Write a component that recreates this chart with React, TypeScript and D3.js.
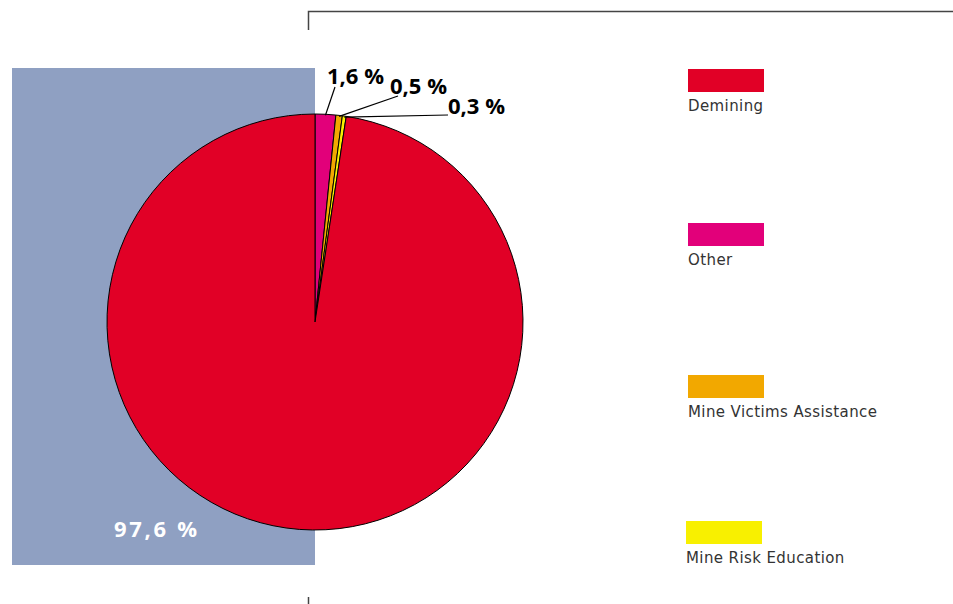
import React from "react";
import * as d3 from "d3";

const categories = ["Other", "Mine Victims Assistance", "Mine Risk Education", "Demining"];
const values = [1.6, 0.5, 0.3, 97.6];
const valueLabels = ["1,6 %", "0,5 %", "0,3 %", "97,6 %"];
const colors = ["#e2007a", "#f2a800", "#f8f000", "#e10026"];
const legendOrder = ["Demining", "Other", "Mine Victims Assistance", "Mine Risk Education"];

const W = 953, H = 604;
const cx = 315, cy = 322, R = 208;

export default function App() {
  const pie = d3.pie<number>().sort(null).value((d) => d)(values);
  const arc = d3.arc<d3.PieArcDatum<number>>().innerRadius(0).outerRadius(R);
  const outer = (a: d3.PieArcDatum<number>) => {
    const m = (a.startAngle + a.endAngle) / 2;
    return [Math.sin(m) * R, -Math.cos(m) * R];
  };
  const labelPos = [
    { x: 327, y: 84, lx: 335, ly: 87 },
    { x: 390, y: 94, lx: 398, ly: 96 },
    { x: 448, y: 114, lx: 448, ly: 115 },
  ];
  const legendY = [69, 223, 375, 521];
  const legendX = [688, 688, 688, 686];
  const font = "'DejaVu Sans', sans-serif";
  const labelFont = "'Open Sans', sans-serif";
  return (
    <svg width={W} height={H} style={{ position: "absolute", left: 0, top: 0 }}>
      <rect x={0} y={0} width={W} height={H} fill="#fff" />
      <path d={`M308.5,30 V11.5 H953`} fill="none" stroke="#444" strokeWidth={1.5} />
      <line x1={308.5} x2={308.5} y1={597} y2={604} stroke="#444" strokeWidth={1.5} />
      <rect x={12} y={68} width={303} height={497} fill="#8fa0c2" />
      <g transform={`translate(${cx},${cy})`}>
        {pie.map((p, i) => (
          <path key={i} d={arc(p) || ""} fill={colors[i]} stroke="#000" strokeWidth={1} />
        ))}
      </g>
      {labelPos.map((l, i) => {
        const [ox, oy] = outer(pie[i]);
        return (
          <g key={i}>
            <line x1={l.lx} y1={l.ly} x2={cx + ox} y2={cy + oy + 1} stroke="#000" strokeWidth={1.2} />
            <text x={l.x} y={l.y} fontFamily={labelFont} fontWeight="bold" fontSize={22} fill="#000" textLength={57} lengthAdjust="spacingAndGlyphs">
              {valueLabels[i]}
            </text>
          </g>
        );
      })}
      <text x={114} y={537} fontFamily={labelFont} fontWeight="bold" fontSize={22} fill="#fff" textLength={83} lengthAdjust="spacing">
        {valueLabels[3]}
      </text>
      {legendOrder.map((name, i) => {
        const ci = categories.indexOf(name);
        return (
          <g key={name}>
            <rect x={legendX[i]} y={legendY[i]} width={76} height={23} fill={colors[ci]} />
            <text x={legendX[i]} y={legendY[i] + 42} fontFamily={font} fontSize={15} fill="#333" letterSpacing={0.4}>
              {name}
            </text>
          </g>
        );
      })}
    </svg>
  );
}
